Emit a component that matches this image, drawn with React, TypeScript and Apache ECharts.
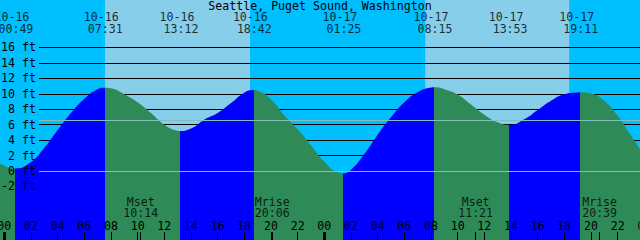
import React, { useEffect, useRef } from "react";
import * as echarts from "echarts";

// ---------- data ----------
const TITLE = "Seattle, Puget Sound, Washington";

// tide curve readings: hours since 10-16 00:00, height in feet
const tideHours = [-2, -1, 0, 0.82, 2, 3, 4, 5, 6, 7, 7.52, 8, 9, 10, 11, 12, 13, 13.2, 14, 15, 16, 17, 18, 18.7, 19, 20, 21, 22, 23, 24, 25, 25.42, 26, 27, 28, 29, 30, 31, 32, 32.25, 33, 34, 35, 36, 37, 37.88, 39, 40, 41, 42, 43, 43.18, 44, 45, 46, 47, 48, 49];
const tideFeet = [3.6, 1.9, 0.67, 0.32, 1.15, 3.0, 5.3, 7.5, 9.35, 10.6, 10.79, 10.72, 9.95, 8.9, 7.5, 6.0, 5.22, 5.18, 5.5, 6.65, 7.5, 8.8, 10.15, 10.49, 10.4, 9.3, 7.2, 5.4, 3.35, 1.2, -0.17, -0.3, 0.15, 2.2, 4.7, 6.95, 8.9, 10.2, 10.8, 10.84, 10.6, 9.9, 8.6, 7.3, 6.3, 5.96, 6.7, 7.9, 9.1, 9.95, 10.18, 10.19, 10.05, 9.1, 7.15, 4.6, 2.2, 0.8];

// high / low tide events
const extremeDates = ["10-16", "10-16", "10-16", "10-16", "10-17", "10-17", "10-17", "10-17"];
const extremeTimes = ["00:49", "07:31", "13:12", "18:42", "01:25", "08:15", "13:53", "19:11"];
const extremeKinds = ["low", "high", "low", "high", "low", "high", "low", "high"];

// daylight (hours since 10-16 00:00)
const sunriseHours = [7.55, 31.57];
const sunsetHours = [18.43, 42.37];

// moon events
const moonNames = ["Mset", "Mrise", "Mset", "Mrise"];
const moonDates = ["10-16", "10-16", "10-17", "10-17"];
const moonTimes = ["10:14", "20:06", "11:21", "20:39"];

// axis ticks / labels
const hourTicks = [0, 2, 4, 6, 8, 10, 12, 14, 16, 18, 20, 22, 24, 26, 28, 30, 32, 34, 36, 38, 40, 42, 44, 46];
const edgeHourLabels = [48];
const midnightTicks = [0, 24];
const footLabels = [-2, 0, 2, 4, 6, 8, 10, 12, 14, 16];
const footGridLines = [-2, 2, 4, 6, 8, 10, 12, 14, 16];
const MSL_FT = 6.57;
const DATUM_FT = 0;

// ---------- styles / layout ----------
const NIGHT = "#00BFFF";
const DAY = "#87CEEB";
const RISING = "#0000FF";
const FALLING = "#2E8B57";
const DATUM_COLOR = "#7fbfbf";
const FONT = "'DejaVu Sans Mono', monospace";
const FS = 11.6;

const W = 640;
const H = 240;
const PX_PER_HOUR = W / 48;
const X0_PX = 4.3; // pixel of 10-16 00:00
const X_MIN = -X0_PX / PX_PER_HOUR;
const X_MAX = X_MIN + W / PX_PER_HOUR;
const ZERO_PX = 171; // pixel of 0 ft
const PX_PER_FT = 7.72;
const Y_MAX = ZERO_PX / PX_PER_FT;
const Y_MIN = -(H - ZERO_PX) / PX_PER_FT;
const pxToFt = (py: number) => (ZERO_PX - py) / PX_PER_FT;

const dayOffset = (d: string) => (d === "10-17" ? 24 : 0);
const toHours = (d: string, t: string) => {
  const [h, m] = t.split(":").map(Number);
  return dayOffset(d) + h + m / 60;
};
const pad2 = (n: number) => (n < 10 ? "0" + n : "" + n);

export default function App() {
  const ref = useRef<HTMLDivElement>(null);

  useEffect(() => {
    if (!ref.current) return;
    const chart = echarts.init(ref.current, undefined, { renderer: "svg" });

    const extremeHours = extremeTimes.map((t, i) => toHours(extremeDates[i], t));
    const moonHours = moonTimes.map((t, i) => toHours(moonDates[i], t));

    const pieces: any[] = [];
    pieces.push({ lt: extremeHours[0], color: extremeKinds[0] === "low" ? FALLING : RISING });
    extremeHours.forEach((eh, i) => {
      const p: any = { gte: eh, color: extremeKinds[i] === "low" ? RISING : FALLING };
      if (i + 1 < extremeHours.length) p.lt = extremeHours[i + 1];
      pieces.push(p);
    });

    const textStyle = { fontFamily: FONT, fontSize: FS, color: "#000" };
    const tickAxis = (values: number[], width: number) => ({
      type: "value",
      gridIndex: 0,
      min: X_MIN,
      max: X_MAX,
      position: "bottom",
      z: 10,
      axisLine: { show: false, onZero: false },
      splitLine: { show: false },
      axisLabel: { show: false },
      axisTick: {
        show: true,
        inside: true,
        length: 8,
        customValues: values,
        lineStyle: { color: "#000", width },
      },
    });
    const labelScatter = (
      name: string,
      points: number[][],
      formatter: (i: number) => string,
      offset: number[] = [0, 0],
      extra: any = {}
    ) => ({
      name,
      type: "scatter",
      xAxisIndex: 0,
      yAxisIndex: 0,
      z: 7,
      symbolSize: 1,
      silent: true,
      itemStyle: { color: "transparent" },
      data: points,
      ...extra,
      label: {
        show: true,
        position: "inside",
        offset,
        align: "center",
        verticalAlign: "middle",
        lineHeight: FS,
        formatter: (p: any) => formatter(p.dataIndex),
        ...textStyle,
      },
    });

    const option: any = {
      animation: false,
      backgroundColor: NIGHT,
      grid: [
        { left: 0, right: 0, top: 0, bottom: 0, outerBoundsMode: "none", containLabel: false },
        { left: 39, right: 0, top: 0, bottom: 0, outerBoundsMode: "none", containLabel: false },
      ],
      xAxis: [
        {
          type: "value",
          gridIndex: 0,
          min: X_MIN,
          max: X_MAX,
          position: "bottom",
          z: 10,
          axisLine: { show: false, onZero: false },
          splitLine: { show: false },
          axisTick: {
            show: true,
            inside: true,
            length: 8,
            customValues: hourTicks,
            lineStyle: { color: "#000", width: 1 },
          },
          axisLabel: {
            show: true,
            inside: true,
            margin: 14,
            verticalAlign: "middle",
            hideOverlap: false,
            customValues: hourTicks,
            formatter: (v: number) => pad2(Math.round(v) % 24),
            ...textStyle,
          },
        },
        tickAxis(midnightTicks, 3),
        tickAxis(moonHours, 1),
        { type: "value", gridIndex: 1, min: X_MIN, max: X_MAX, show: false },
      ],
      yAxis: [
        { type: "value", gridIndex: 0, min: Y_MIN, max: Y_MAX, show: false },
        {
          type: "value",
          gridIndex: 1,
          min: Y_MIN,
          max: Y_MAX,
          position: "left",
          z: 10,
          axisLine: { show: false },
          axisTick: { show: false },
          splitLine: { show: false },
          axisLabel: {
            show: true,
            margin: 3,
            customValues: footLabels,
            formatter: (v: number) => `${Math.round(v)} ft`,
            ...textStyle,
          },
        },
      ],
      visualMap: [
        {
          type: "piecewise",
          show: false,
          seriesIndex: 2,
          dimension: 0,
          pieces,
        },
      ],
      graphic: [
        {
          type: "text",
          x: W / 2,
          y: 5.5,
          z: 20,
          style: {
            text: TITLE,
            align: "center",
            verticalAlign: "middle",
            fontFamily: FONT,
            fontSize: FS,
            fill: "#000",
          },
        },
      ],
      series: [
        {
          name: "daylight",
          type: "line",
          xAxisIndex: 0,
          yAxisIndex: 0,
          data: [],
          z: 1,
          silent: true,
          markArea: {
            silent: true,
            z: 1,
            itemStyle: { color: DAY, opacity: 1 },
            data: sunriseHours.map((s, i) => [{ xAxis: s }, { xAxis: sunsetHours[i] }]),
          },
        },
        {
          name: "gridlines",
          type: "line",
          xAxisIndex: 3,
          yAxisIndex: 1,
          data: [],
          z: 2,
          silent: true,
          markLine: {
            silent: true,
            z: 2,
            symbol: ["none", "none"],
            label: { show: false },
            lineStyle: { color: "#000", width: 1, type: "solid" },
            data: footGridLines.map((v) => ({ yAxis: v })),
          },
        },
        {
          name: "tide",
          type: "line",
          xAxisIndex: 0,
          yAxisIndex: 0,
          z: 3,
          smooth: 0.5,
          symbol: "none",
          silent: true,
          lineStyle: { width: 0, opacity: 0 },
          areaStyle: { opacity: 1, origin: "start" },
          data: tideHours.map((h, i) => [h, tideFeet[i]]),
        },
        {
          name: "datum",
          type: "line",
          xAxisIndex: 3,
          yAxisIndex: 1,
          data: [],
          z: 6,
          silent: true,
          markLine: {
            silent: true,
            z: 6,
            symbol: ["none", "none"],
            label: { show: false },
            lineStyle: { color: DATUM_COLOR, width: 1, type: "solid", opacity: 1 },
            data: [{ yAxis: DATUM_FT }, { yAxis: MSL_FT }],
          },
        },
        labelScatter(
          "extreme dates",
          extremeHours.map((h) => [h, pxToFt(17.2)]),
          (i) => extremeDates[i],
          [-3.3, 0]
        ),
        labelScatter(
          "extreme times",
          extremeHours.map((h) => [h, pxToFt(29.2)]),
          (i) => extremeTimes[i],
          [0.7, 0]
        ),
        labelScatter(
          "moon",
          moonHours.map((h) => [h, pxToFt(207.5)]),
          (i) => `${moonNames[i]}\n${moonTimes[i]}`
        ),
        labelScatter(
          "edge hour label",
          edgeHourLabels.map((h) => [h, pxToFt(226)]),
          (i) => pad2(edgeHourLabels[i] % 24),
          [0, 0],
          { clip: false }
        ),
      ],
    };

    chart.setOption(option);
    return () => chart.dispose();
  }, []);

  return (
    <div
      ref={ref}
      style={{ position: "fixed", left: 0, top: 0, width: W, height: H }}
    />
  );
}
